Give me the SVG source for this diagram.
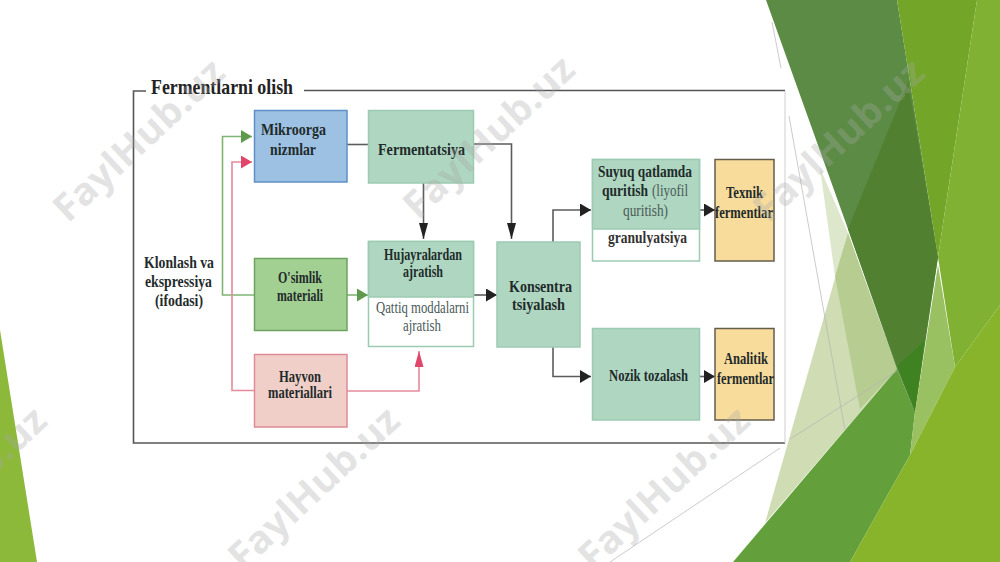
<svg xmlns="http://www.w3.org/2000/svg" width="1000" height="562" viewBox="0 0 1000 562">
<style>
text{font-family:"Liberation Serif","Times New Roman",serif;font-size:16px;fill:#1f2b2b;font-weight:700;stroke:none}
.r{font-weight:400;fill:#4a5a58}
.title{font-size:21px;fill:#222}
.wm{font-family:"Open Sans","DejaVu Sans",sans-serif;font-size:38px;font-weight:700;fill:#a8a8a8;fill-opacity:.32}
.teal{fill:#aed6c0;stroke:#9ccbb2;stroke-width:1.5}
.tealo{fill:#fff;stroke:#9ccbb2;stroke-width:1.5}
.tan{fill:#f7dc9b;stroke:#665c4c;stroke-width:1.5}
.ln{fill:none;stroke-width:1.6}
.k{stroke:#5c5c5c}.g{stroke:#7fb573}.p{stroke:#e58a9c}
.thin{stroke:#b5b5b5;stroke-width:.7;fill:none}
</style>
<defs>
<marker id="ak" markerUnits="userSpaceOnUse" markerWidth="12" markerHeight="14" refX="11" refY="6.5" orient="auto"><path d="M0 0L11 6.5L0 13Z" fill="#222"/></marker>
<marker id="ag" markerUnits="userSpaceOnUse" markerWidth="12" markerHeight="14" refX="11" refY="6.5" orient="auto"><path d="M0 0L11 6.5L0 13Z" fill="#5f9a4c"/></marker>
<marker id="ap" markerUnits="userSpaceOnUse" markerWidth="12" markerHeight="14" refX="11" refY="6.5" orient="auto"><path d="M0 0L11 6.5L0 13Z" fill="#e0466a"/></marker>
<marker id="akv" markerUnits="userSpaceOnUse" markerWidth="18" markerHeight="10" refX="16" refY="4.5" orient="auto"><path d="M0 0L16 4.5L0 9Z" fill="#222"/></marker>
<marker id="apv" markerUnits="userSpaceOnUse" markerWidth="18" markerHeight="10" refX="16" refY="4.5" orient="auto"><path d="M0 0L16 4.5L0 9Z" fill="#e0466a"/></marker>
</defs>
<rect width="1000" height="562" fill="#fff"/>
<g id="background">
<polygon points="0,330 37,562 0,562" fill="#8cb93a"/>
<polygon points="765,523 848,233 897,369" fill="#cfdcb4"/>
<polygon points="820,168 848,233 835,276" fill="#dde7cb"/>
<polygon points="848,233 897,369 860,409 835,276" fill="#b6cc90"/>
<polygon points="733,562 897,369 915,412 910,455 850,562" fill="#63a03b"/>
<polygon points="766,0 897,0 938,257 915,412 897,369 848,229" fill="#5c8b45"/>
<polygon points="848,229 908,82 938,257 925,340 897,366" fill="#518030"/>
<polygon points="897,366 925,340 915,412" fill="#3f8222"/>
<polygon points="897,0 977,0 938,257" fill="#72a528"/>
<polygon points="977,0 1000,0 1000,305 955,367 938,257" fill="#80b133"/>
<polygon points="938,265 955,367 910,455 915,412" fill="#99c061"/>
<polygon points="850,562 910,455 955,367 1000,305 1000,562" fill="#87b42a"/>
<line class="thin" x1="772" y1="22" x2="781" y2="68"/>
<line class="thin" x1="789" y1="116" x2="845" y2="430"/>
<line class="thin" x1="610" y1="562" x2="780" y2="448"/>
<line class="thin" x1="790" y1="439" x2="897" y2="371"/>
</g>
<g id="frame">
<path d="M146 91H133.500V443H785" fill="none" stroke="#555" stroke-width="1.6"/>
<path d="M304 90.500H785" fill="none" stroke="#555" stroke-width="1.6"/>
<path d="M785 91V443" fill="none" stroke="#cfcfcf" stroke-width="1"/>
<text class="title" x="151" y="94" textLength="142" lengthAdjust="spacingAndGlyphs">Fermentlarni olish</text>
</g>
<g id="connectors">
<path class="ln g" d="M254 295H222.500V136.500H252" marker-end="url(#ag)"/>
<path class="ln p" d="M254 390.500H232V162H252" marker-end="url(#ap)"/>
<path class="ln g" d="M347 295H368" marker-end="url(#ag)"/>
<path class="ln p" d="M347 391H419V351" marker-end="url(#apv)"/>
<path class="ln k" d="M347 144.500H368"/>
<path class="ln k" d="M474 144H511.500V239" marker-end="url(#akv)"/>
<path class="ln k" d="M423.500 183V239" marker-end="url(#akv)"/>
<path class="ln k" d="M474 295H497" marker-end="url(#ak)"/>
<path class="ln k" d="M553 242V210H591" marker-end="url(#ak)"/>
<path class="ln k" d="M553 347V376.500H591" marker-end="url(#ak)"/>
<path class="ln k" d="M700 210H715" marker-end="url(#ak)"/>
<path class="ln k" d="M700 376.500H715" marker-end="url(#ak)"/>
</g>
<g id="klonlash">
<text x="144" y="268" textLength="70" lengthAdjust="spacingAndGlyphs">Klonlash va</text>
<text x="145" y="287" textLength="67" lengthAdjust="spacingAndGlyphs">ekspressiya</text>
<text x="155" y="306" textLength="48" lengthAdjust="spacingAndGlyphs">(ifodasi)</text>
</g>
<g id="mikroorganizmlar">
<rect x="254.500" y="110.500" width="92.500" height="71.500" fill="#9dc1e3" stroke="#5e8fc7" stroke-width="1.5"/>
<text x="261" y="135" textLength="65" lengthAdjust="spacingAndGlyphs">Mikroorga</text>
<text x="270" y="155" textLength="46" lengthAdjust="spacingAndGlyphs">nizmlar</text>
</g>
<g id="fermentatsiya">
<rect class="teal" x="368.500" y="110.500" width="105" height="72.500"/>
<text x="378" y="155" textLength="87" lengthAdjust="spacingAndGlyphs">Fermentatsiya</text>
</g>
<g id="osimlik">
<rect x="254.500" y="258.500" width="92.500" height="72" fill="#a2cf92" stroke="#6ea35f" stroke-width="1.5"/>
<text x="278" y="283" textLength="44" lengthAdjust="spacingAndGlyphs">O'simlik</text>
<text x="277" y="301" textLength="46" lengthAdjust="spacingAndGlyphs">materiali</text>
</g>
<g id="hayvon">
<rect x="254.500" y="354.500" width="92.500" height="72.500" fill="#f0cfc8" stroke="#e08a98" stroke-width="1.5"/>
<text x="279" y="382" textLength="42" lengthAdjust="spacingAndGlyphs">Hayvon</text>
<text x="268" y="398" textLength="64" lengthAdjust="spacingAndGlyphs">materiallari</text>
</g>
<g id="hujayralardan">
<rect class="tealo" x="368.500" y="241.500" width="105" height="105"/>
<rect class="teal" x="368.500" y="241.500" width="105" height="55.500"/>
<text x="384" y="260" textLength="78" lengthAdjust="spacingAndGlyphs">Hujayralardan</text>
<text x="403" y="277" textLength="40" lengthAdjust="spacingAndGlyphs">ajratish</text>
<text class="r" x="376" y="313" textLength="93" lengthAdjust="spacingAndGlyphs">Qattiq moddalarni</text>
<text class="r" x="403" y="331" textLength="38" lengthAdjust="spacingAndGlyphs">ajratish</text>
</g>
<g id="konsentratsiyalash">
<rect class="teal" x="497" y="242" width="83" height="105"/>
<text x="509" y="292" textLength="63" lengthAdjust="spacingAndGlyphs">Konsentra</text>
<text x="512" y="310" textLength="53" lengthAdjust="spacingAndGlyphs">tsiyalash</text>
</g>
<g id="suyuq">
<rect class="tealo" x="592.500" y="159.500" width="107" height="101.500"/>
<rect class="teal" x="592.500" y="159.500" width="107" height="69.500"/>
<text x="598" y="177" textLength="94" lengthAdjust="spacingAndGlyphs">Suyuq qatlamda</text>
<text x="602" y="196" textLength="46" lengthAdjust="spacingAndGlyphs">quritish</text>
<text class="r" x="652" y="196" textLength="36" lengthAdjust="spacingAndGlyphs">(liyofil</text>
<text class="r" x="623" y="216" textLength="45" lengthAdjust="spacingAndGlyphs">quritish)</text>
<text x="608" y="243" textLength="79" lengthAdjust="spacingAndGlyphs" style="fill:#333">granulyatsiya</text>
</g>
<g id="nozik">
<rect class="teal" x="592.500" y="328.500" width="107" height="91.500"/>
<text x="609" y="381" textLength="79" lengthAdjust="spacingAndGlyphs">Nozik tozalash</text>
</g>
<g id="texnik">
<rect class="tan" x="715" y="159.500" width="59" height="101.500"/>
<text x="726" y="198" textLength="37" lengthAdjust="spacingAndGlyphs">Texnik</text>
<text x="715" y="218" textLength="58" lengthAdjust="spacingAndGlyphs">fermentlar</text>
</g>
<g id="analitik">
<rect class="tan" x="715" y="328.500" width="59" height="91.500"/>
<text x="724" y="364" textLength="44" lengthAdjust="spacingAndGlyphs">Analitik</text>
<text x="717" y="384" textLength="57" lengthAdjust="spacingAndGlyphs">fermentlar</text>
</g>
<g id="watermarks">
<text class="wm" transform="translate(68,224) rotate(-43)" textLength="218" lengthAdjust="spacingAndGlyphs">FaylHub.uz</text>
<text class="wm" transform="translate(418,221) rotate(-43)" textLength="218" lengthAdjust="spacingAndGlyphs">FaylHub.uz</text>
<text class="wm" transform="translate(768,224) rotate(-43)" textLength="218" lengthAdjust="spacingAndGlyphs">FaylHub.uz</text>
<text class="wm" transform="translate(243,572) rotate(-43)" textLength="218" lengthAdjust="spacingAndGlyphs">FaylHub.uz</text>
<text class="wm" transform="translate(593,572) rotate(-43)" textLength="218" lengthAdjust="spacingAndGlyphs">FaylHub.uz</text>
<text class="wm" transform="translate(-110,572) rotate(-43)" textLength="218" lengthAdjust="spacingAndGlyphs">FaylHub.uz</text>
</g>
</svg>
